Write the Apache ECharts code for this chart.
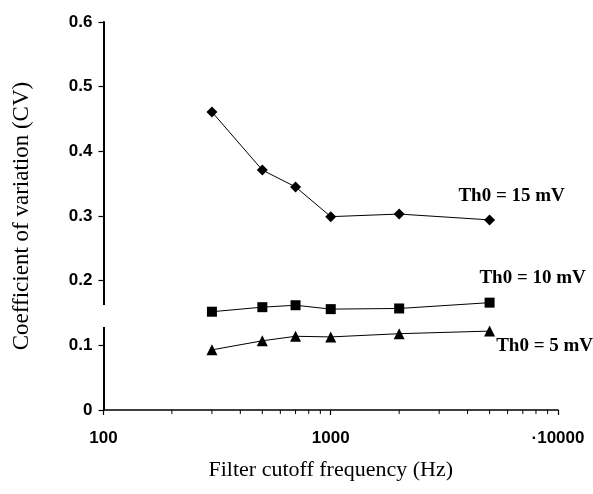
<!DOCTYPE html>
<html><head><meta charset="utf-8">
<script src="https://cdn.jsdelivr.net/npm/echarts@6/dist/echarts.min.js"></script>
<style>html,body{margin:0;padding:0;background:#fff}#c{width:593px;height:494px}</style>
</head><body><div id="c"></div>
<script>
const freqs = [300, 500, 700, 1000, 2000, 5000];
const cv15 = [0.461, 0.371, 0.345, 0.299, 0.303, 0.294];
const cv10 = [0.152, 0.159, 0.162, 0.156, 0.157, 0.166];
const cv5  = [0.093, 0.107, 0.114, 0.113, 0.118, 0.122];
const seriesNames = ['Th0 = 15 mV', 'Th0 = 10 mV', 'Th0 = 5 mV'];
const xTickLabels = {100: '100', 1000: '1000', 10000: '\u00b710000'};
const minorTicks = [200,300,400,500,600,700,800,900,2000,3000,4000,5000,6000,7000,8000,9000];
const yTicks = [0, 0.1, 0.2, 0.3, 0.4, 0.5, 0.6];

const chart = echarts.init(document.getElementById('c'));
const serif = '"Liberation Serif", "Times New Roman", serif';
const sans = '"Liberation Sans", Arial, sans-serif';

function mk(vals){ return freqs.map((f,i)=>[f, vals[i]]); }
function endLabel(vals, name, offset){
  const d = mk(vals).map(p=>({value:p}));
  d[d.length-1].label = {show:true, formatter:name, position:'inside', offset:offset,
    fontFamily:serif, fontWeight:'bold', fontSize:19, color:'#000'};
  return d;
}

chart.setOption({
  animation:false,
  backgroundColor:'#fff',
  grid:{left:103.5, right:35, top:22, bottom:84},
  xAxis:{type:'log', logBase:10, min:100, max:10000,
    axisLine:{lineStyle:{color:'#000', width:1.5}},
    axisTick:{show:true, length:5, lineStyle:{color:'#000', width:1.2}},
    splitLine:{show:false},
    axisLabel:{margin:20, color:'#000', fontFamily:sans, fontWeight:'bold', fontSize:17,
      formatter:v=>xTickLabels[Math.round(v)]||''},
    name:'Filter cutoff frequency (Hz)', nameLocation:'middle', nameGap:49,
    nameTextStyle:{fontFamily:serif, fontSize:22, color:'#000'}
  },
  yAxis:{type:'value', min:0, max:0.6, interval:0.1,
    axisLine:{show:true, lineStyle:{color:'#000', width:2}},
    axisTick:{show:true, length:5, lineStyle:{color:'#000', width:1.2}},
    splitLine:{show:false},
    axisLabel:{margin:11, color:'#000', fontFamily:sans, fontWeight:'bold', fontSize:17,
      formatter:v=>{ const t = yTicks.find(y=>Math.abs(y-v)<1e-9); return t===0?'0':t.toFixed(1);} },
    name:'Coefficient of variation (CV)', nameLocation:'middle', nameGap:70,
    nameTextStyle:{fontFamily:serif, fontSize:23, color:'#000'}
  },
  graphic:[{type:'rect', shape:{x:100, y:305, width:6, height:22}, style:{fill:'#fff'}, z:100}],
  series:[
    {type:'line', name:seriesNames[0], data:endLabel(cv15, seriesNames[0], [22,-24]),
      symbol:'diamond', symbolSize:11, itemStyle:{color:'#000'}, lineStyle:{color:'#000', width:1}},
    {type:'line', name:seriesNames[1], data:endLabel(cv10, seriesNames[1], [43,-25]),
      symbol:'rect', symbolSize:10, itemStyle:{color:'#000'}, lineStyle:{color:'#000', width:1}},
    {type:'line', name:seriesNames[2], data:endLabel(cv5, seriesNames[2], [55,15]),
      symbol:'triangle', symbolSize:11, itemStyle:{color:'#000'}, lineStyle:{color:'#000', width:1}},
    {type:'custom', data:minorTicks.map(f=>[f,0]), silent:true,
      renderItem:(params, api)=>{
        const p = api.coord([api.value(0), 0]);
        return {type:'line', shape:{x1:p[0], y1:p[1], x2:p[0], y2:p[1]+4},
          style:{stroke:'#000', lineWidth:1}};
      }}
  ]
});
</script></body></html>
